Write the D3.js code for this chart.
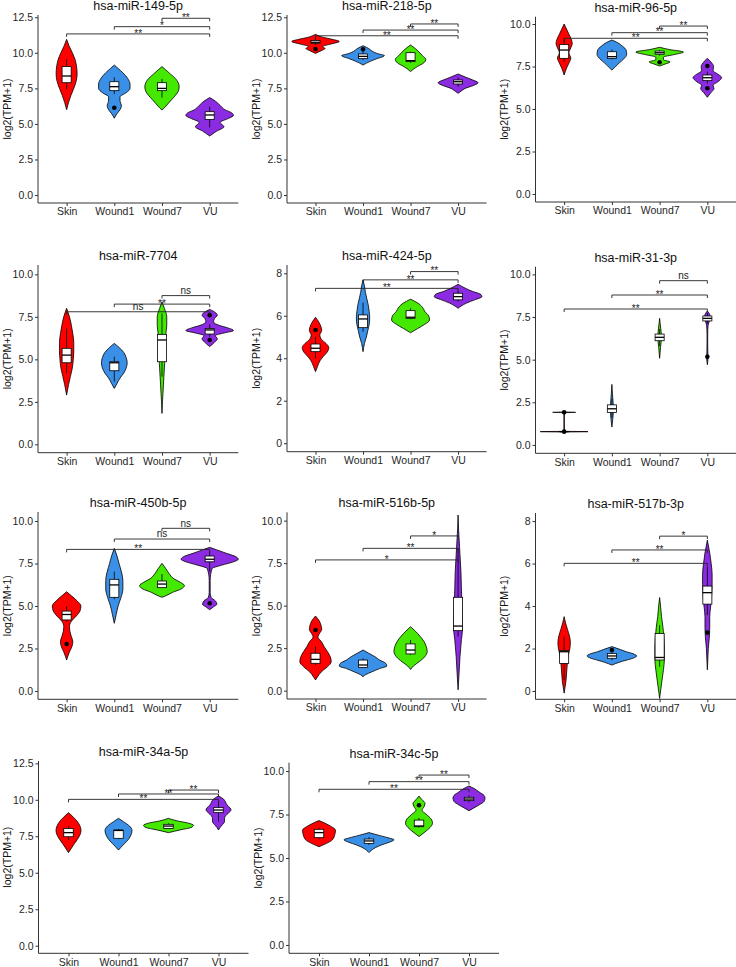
<!DOCTYPE html>
<html><head><meta charset="utf-8">
<script src="https://cdn.jsdelivr.net/npm/d3@7"></script>
<style>body{margin:0;background:#fff}svg{display:block}text{font-family:"Liberation Sans",Arial,sans-serif}</style>
</head><body><svg id="c" width="736" height="967"></svg>
<script>
const groups = ["Skin","Wound1","Wound7","VU"];
const groupColors = ["#FF0000","#3A8FE6","#44E800","#8B2BE2"];
const titles = ["hsa-miR-149-5p","hsa-miR-218-5p","hsa-miR-96-5p","hsa-miR-7704","hsa-miR-424-5p","hsa-miR-31-3p","hsa-miR-450b-5p","hsa-miR-516b-5p","hsa-miR-517b-3p","hsa-miR-34a-5p","hsa-miR-34c-5p"];
const yLabel = "log2(TPM+1)";
const yLimits = [[-0.56,12.66],[-0.56,12.66],[-0.47,10.43],[-0.49,10.55],[-0.40,8.39],[-0.49,10.45],[-0.49,10.53],[-0.49,10.49],[-0.39,8.38],[-0.52,12.66],[-0.48,10.48]];
const ticksA = [0,2.5,5,7.5,10,12.5];
const ticksB = [0,2.5,5,7.5,10];
const ticksC = [0,2,4,6,8];
const yTicks = [ticksA,ticksA,ticksB,ticksB,ticksC,ticksB,ticksB,ticksB,ticksC,ticksA,ticksB];

// violin outlines: [value, half-width as fraction of category step]
const violins = [
 [ // 149-5p
  [[10.95,0],[10.5,0.05],[10,0.12],[9.5,0.18],[9,0.21],[8.5,0.22],[8,0.2],[7.5,0.15],[7,0.09],[6.5,0.04],[6,0]],
  [[9.14,0],[8.9,0.08],[8.6,0.18],[8.2,0.28],[7.8,0.33],[7.5,0.33],[7.2,0.25],[6.9,0.12],[6.6,0.12],[6.3,0.15],[6.0,0.12],[5.7,0.05],[5.4,0]],
  [[9.03,0],[8.8,0.08],[8.5,0.18],[8.2,0.28],[7.9,0.34],[7.6,0.36],[7.3,0.34],[7.0,0.28],[6.7,0.2],[6.4,0.12],[6.1,0.04],[5.98,0]],
  [[6.85,0],[6.6,0.12],[6.3,0.22],[6.0,0.32],[5.8,0.45],[5.6,0.5],[5.4,0.4],[5.1,0.22],[4.8,0.3],[4.5,0.15],[4.15,0]]
 ],
 [ // 218-5p
  [[11.3,0],[11.1,0.15],[10.95,0.35],[10.8,0.5],[10.6,0.3],[10.45,0.15],[10.3,0.2],[10.15,0.12],[9.96,0]],
  [[10.5,0],[10.3,0.12],[10.1,0.2],[9.95,0.3],[9.8,0.45],[9.6,0.3],[9.4,0.15],[9.14,0]],
  [[10.55,0],[10.3,0.1],[10.05,0.18],[9.8,0.25],[9.55,0.32],[9.3,0.28],[9.05,0.15],[8.85,0.06],[8.68,0]],
  [[8.51,0],[8.3,0.15],[8.1,0.3],[7.9,0.42],[7.7,0.32],[7.5,0.15],[7.3,0.06],[7.15,0]]
 ],
 [ // 96-5p
  [[10.0,0],[9.7,0.05],[9.4,0.1],[9.1,0.15],[8.85,0.17],[8.6,0.14],[8.3,0.1],[8.0,0.14],[7.7,0.1],[7.4,0.05],[7.0,0]],
  [[9.06,0],[8.9,0.12],[8.7,0.22],[8.45,0.3],[8.2,0.31],[7.95,0.25],[7.7,0.15],[7.45,0.06],[7.29,0]],
  [[8.63,0],[8.5,0.2],[8.35,0.5],[8.2,0.3],[8.05,0.08],[7.9,0.08],[7.77,0.22],[7.65,0.12],[7.53,0]],
  [[7.98,0],[7.75,0.08],[7.5,0.13],[7.25,0.12],[7.05,0.22],[6.85,0.3],[6.6,0.22],[6.4,0.12],[6.2,0.14],[5.95,0.07],[5.69,0]]
 ],
 [ // 7704
  [[8.0,0],[7.5,0.06],[7.0,0.1],[6.5,0.13],[6.0,0.15],[5.5,0.15],[5.0,0.14],[4.5,0.12],[4.0,0.08],[3.5,0.04],[2.9,0]],
  [[5.94,0],[5.7,0.1],[5.4,0.2],[5.1,0.25],[4.8,0.27],[4.5,0.25],[4.2,0.2],[3.9,0.12],[3.6,0.06],[3.29,0]],
  [[8.39,0],[8.0,0.05],[7.5,0.1],[7.0,0.1],[6.5,0.08],[6.0,0.07],[5.5,0.06],[5.0,0.06],[4.5,0.05],[4.0,0.04],[3.5,0.03],[3.0,0.02],[2.5,0.01],[1.82,0]],
  [[7.94,0],[7.75,0.12],[7.6,0.16],[7.4,0.1],[7.2,0.08],[7.0,0.2],[6.85,0.38],[6.7,0.5],[6.55,0.3],[6.4,0.12],[6.2,0.16],[6.0,0.1],[5.75,0]]
 ],
 [ // 424-5p
  [[5.93,0],[5.7,0.07],[5.45,0.12],[5.3,0.13],[5.1,0.09],[4.9,0.12],[4.7,0.22],[4.5,0.28],[4.3,0.25],[4.1,0.17],[3.9,0.1],[3.6,0.04],[3.37,0]],
  [[7.69,0],[7.4,0.03],[7.1,0.05],[6.8,0.08],[6.5,0.11],[6.2,0.13],[5.9,0.14],[5.6,0.13],[5.3,0.1],[5.0,0.07],[4.7,0.03],[4.31,0]],
  [[6.78,0],[6.6,0.15],[6.4,0.25],[6.2,0.3],[6.0,0.38],[5.8,0.4],[5.6,0.3],[5.4,0.15],[5.2,0]],
  [[7.48,0],[7.3,0.15],[7.15,0.3],[7.0,0.48],[6.9,0.5],[6.75,0.35],[6.6,0.18],[6.45,0.06],[6.35,0]]
 ],
 [ // 31-3p
  [[1.93,0],[1.91,0.24],[1.89,0.004],[0.8,0.004],[0.78,0.5],[0.76,0]],
  [[3.55,0],[3.0,0.012],[2.5,0.025],[2.2,0.035],[1.9,0.03],[1.5,0.018],[1.05,0]],
  [[7.42,0],[7.1,0.012],[6.8,0.025],[6.5,0.035],[6.3,0.04],[6.0,0.03],[5.7,0.018],[5.4,0.01],[5.08,0]],
  [[7.85,0],[7.7,0.04],[7.5,0.06],[7.3,0.045],[7.0,0.015],[6.5,0.007],[6.0,0.007],[5.5,0.009],[5.15,0.015],[4.8,0.004],[4.7,0]]
 ],
 [ // 450b-5p
  [[5.84,0],[5.6,0.1],[5.3,0.22],[5.0,0.3],[4.7,0.28],[4.4,0.2],[4.1,0.1],[3.8,0.06],[3.5,0.07],[3.2,0.1],[2.9,0.13],[2.6,0.11],[2.3,0.06],[2.0,0.02],[1.82,0]],
  [[8.39,0],[8.0,0.05],[7.5,0.1],[7.0,0.15],[6.5,0.18],[6.0,0.18],[5.5,0.14],[5.0,0.08],[4.5,0.04],[3.98,0]],
  [[7.51,0],[7.2,0.08],[6.9,0.15],[6.6,0.25],[6.4,0.38],[6.2,0.47],[6.0,0.4],[5.8,0.22],[5.6,0.08],[5.51,0]],
  [[8.45,0],[8.3,0.15],[8.1,0.35],[7.9,0.55],[7.75,0.6],[7.6,0.5],[7.4,0.25],[7.2,0.05],[6.5,0.01],[5.8,0.01],[5.5,0.03],[5.3,0.12],[5.1,0.15],[4.95,0.08],[4.78,0]]
 ],
 [ // 516b-5p
  [[4.39,0],[4.1,0.08],[3.8,0.12],[3.6,0.13],[3.35,0.08],[3.15,0.05],[2.9,0.12],[2.6,0.18],[2.3,0.25],[2.0,0.31],[1.7,0.33],[1.4,0.25],[1.1,0.12],[0.8,0.04],[0.63,0]],
  [[2.39,0],[2.2,0.12],[2.0,0.25],[1.8,0.35],[1.6,0.48],[1.45,0.5],[1.3,0.35],[1.1,0.18],[0.95,0.06],[0.82,0]],
  [[3.76,0],[3.5,0.1],[3.2,0.2],[2.9,0.28],[2.6,0.33],[2.3,0.35],[2.0,0.3],[1.7,0.18],[1.45,0.06],[1.25,0]],
  [[10.33,0],[9.5,0.01],[9.0,0.02],[8.5,0.03],[8.0,0.04],[7.0,0.06],[6.0,0.07],[5.0,0.08],[4.0,0.09],[3.5,0.09],[3.0,0.07],[2.0,0.04],[1.0,0.02],[0.05,0]]
 ],
 [ // 517b-3p
  [[3.5,0],[3.2,0.03],[2.9,0.07],[2.6,0.11],[2.3,0.13],[2.0,0.12],[1.7,0.09],[1.4,0.07],[1.1,0.06],[0.8,0.05],[0.5,0.04],[0.2,0.02],[-0.1,0]],
  [[2.09,0],[1.95,0.18],[1.85,0.3],[1.75,0.45],[1.65,0.52],[1.55,0.45],[1.45,0.3],[1.35,0.15],[1.22,0]],
  [[4.4,0],[4.0,0.02],[3.5,0.04],[3.0,0.07],[2.5,0.09],[2.0,0.1],[1.5,0.1],[1.0,0.08],[0.5,0.05],[0.0,0.02],[-0.35,0]],
  [[7.1,0],[6.5,0.05],[6.0,0.08],[5.5,0.1],[5.0,0.1],[4.5,0.09],[4.0,0.07],[3.5,0.05],[3.0,0.05],[2.5,0.04],[2.0,0.02],[1.5,0.01],[1.0,0]]
 ],
 [ // 34a-5p
  [[9.12,0],[8.8,0.1],[8.5,0.18],[8.2,0.23],[7.9,0.25],[7.6,0.23],[7.3,0.18],[7.0,0.12],[6.7,0.06],[6.38,0]],
  [[8.73,0],[8.5,0.1],[8.2,0.22],[7.9,0.27],[7.6,0.25],[7.3,0.2],[7.0,0.12],[6.75,0.05],[6.56,0]],
  [[8.73,0],[8.55,0.18],[8.4,0.4],[8.25,0.5],[8.1,0.45],[7.95,0.25],[7.75,0]],
  [[10.26,0],[10.05,0.1],[9.85,0.14],[9.65,0.17],[9.45,0.23],[9.3,0.25],[9.1,0.2],[8.9,0.14],[8.7,0.12],[8.5,0.12],[8.3,0.08],[8.1,0.03],[7.93,0]]
 ],
 [ // 34c-5p
  [[7.15,0],[7.0,0.12],[6.8,0.25],[6.6,0.33],[6.4,0.32],[6.2,0.3],[6.0,0.25],[5.8,0.12],[5.65,0]],
  [[6.46,0],[6.3,0.2],[6.15,0.4],[6.05,0.5],[5.9,0.4],[5.75,0.25],[5.55,0.1],[5.31,0]],
  [[8.56,0],[8.35,0.06],[8.15,0.12],[7.95,0.1],[7.75,0.06],[7.5,0.15],[7.25,0.24],[7.0,0.27],[6.75,0.22],[6.5,0.12],[6.23,0]],
  [[9.14,0],[9.0,0.1],[8.8,0.2],[8.6,0.3],[8.45,0.32],[8.25,0.3],[8.05,0.2],[7.85,0.08],[7.72,0]]
 ]
];

// box statistics per group: [lower whisker, Q1, median, Q3, upper whisker]
const boxStats = [
 [[7.43,7.9,8.37,9.03,9.54],[7.1,7.34,7.62,7.97,8.28],[6.85,7.34,7.5,7.9,8.16],[4.76,5.32,5.63,5.86,6.21]],
 [[10.55,10.67,10.74,10.86,11.09],[9.5,9.59,9.75,9.92,10.2],[9.3,9.38,9.45,10.01,10.08],[7.62,7.81,7.97,8.09,8.28]],
 [[7.78,7.98,8.47,8.8,9.12],[7.92,7.98,8.08,8.37,8.5],[8.14,8.22,8.31,8.41,8.47],[6.5,6.67,6.84,7.0,7.2]],
 [[4.18,4.8,5.25,5.65,6.82],[3.69,4.33,4.8,4.86,5.16],[3.98,4.86,6.14,6.47,7.7],[6.33,6.49,6.73,6.82,7.06]],
 [[4.0,4.31,4.47,4.67,5.02],[5.25,5.44,5.85,6.04,6.62],[5.84,5.88,5.93,6.24,6.35],[6.67,6.75,6.9,7.06,7.17]],
 [[0.78,0.78,0.78,0.78,0.78],[1.6,1.9,2.12,2.35,2.7],[5.8,6.11,6.31,6.5,6.8],[7.1,7.27,7.42,7.56,7.75]],
 [[4.08,4.18,4.5,4.7,5.0],[5.4,5.51,6.24,6.57,7.02],[6.05,6.08,6.29,6.47,6.88],[7.02,7.6,7.75,7.94,8.2]],
 [[1.5,1.61,1.84,2.2,2.59],[1.35,1.37,1.51,1.8,1.9],[2.1,2.16,2.39,2.75,2.98],[3.18,3.53,3.8,5.49,8.37]],
 [[0.52,1.3,1.85,1.9,2.56],[1.45,1.54,1.65,1.77,1.85],[1.14,1.46,1.58,2.71,3.1],[3.58,4.09,4.63,4.94,5.85]],
 [[7.24,7.47,7.75,8.04,8.2],[7.3,7.36,7.9,7.93,8.0],[8.0,8.04,8.2,8.32,8.4],[8.5,9.12,9.3,9.48,9.99]],
 [[6.1,6.17,6.46,6.65,6.75],[5.75,5.84,5.98,6.09,6.2],[6.75,6.8,6.84,7.18,7.3],[8.2,8.3,8.39,8.49,8.6]]
];

// outliers: [group index, value]
const outliers = [
 [[1,6.14]],
 [[0,10.27],[1,10.25]],
 [[2,7.75],[3,7.53],[3,6.22]],
 [[3,7.6],[3,6.14]],
 [[0,5.33]],
 [[0,1.91],[0,0.78],[3,5.17]],
 [[0,2.76],[3,5.16]],
 [[0,3.57]],
 [[1,1.93],[3,2.75]],
 [],
 [[2,8.03]]
];

// significance brackets: [from group, to group, y value, label]
const brackets = [
 [[0,3,11.33,"**"],[1,3,11.84,"*"],[2,3,12.43,"**"]],
 [[0,3,11.2,"**"],[1,3,11.6,"**"],[2,3,12.03,"**"]],
 [[0,3,9.16,"**"],[1,3,9.49,"**"],[2,3,9.88,"**"]],
 [[0,3,7.8,"ns"],[1,3,8.25,"**"],[2,3,8.75,"ns"]],
 [[0,3,7.29,"**"],[1,3,7.69,"**"],[2,3,8.08,"**"]],
 [[0,3,7.97,"**"],[1,3,8.79,"**"],[2,3,9.63,"ns"]],
 [[0,3,8.33,"**"],[1,3,8.94,"ns"],[2,3,9.57,"ns"]],
 [[0,3,7.69,"*"],[1,3,8.37,"**"],[2,3,9.1,"*"]],
 [[0,3,6.01,"**"],[1,3,6.64,"**"],[2,3,7.29,"*"]],
 [[0,3,10.03,"**"],[1,3,10.4,"**"],[2,3,10.67,"**"]],
 [[0,3,8.95,"**"],[1,3,9.39,"**"],[2,3,9.77,"**"]]
];

// panel frames in pixels: [left, right, top, bottom]
const frames = [
 [38,238.3,15,203],[287,486.6,15,203],[535.5,736,16.7,202],
 [38,238.3,265,452.7],[287,486.6,265,451.7],[535.5,736,266.7,453.3],
 [38,238.3,512,699.3],[287,486.6,512.3,699],[535.5,736,513,699.3],
 [38.5,248.5,761,953.3],[289,499,762.7,953.3]
];

const svg = d3.select("#c");
const axisCol = "#333";
const txtCol = "#1f1f1f";

titles.forEach((title, p) => {
  const [L, R, T, B] = frames[p];
  const g = svg.append("g");
  const x = d3.scalePoint().domain(groups).range([L, R]).padding(0.6);
  const step = x.step();
  const y = d3.scaleLinear().domain(yLimits[p]).range([B, T]);

  // violins
  violins[p].forEach((prof, gi) => {
    const cx = x(groups[gi]);
    const area = d3.area()
      .y(d => y(d[0]))
      .x0(d => cx - d[1] * step)
      .x1(d => cx + d[1] * step)
      .curve(d3.curveMonotoneY);
    g.append("path").attr("d", area(prof))
      .attr("fill", groupColors[gi]).attr("stroke", "#000").attr("stroke-width", 0.8)
      .attr("stroke-linejoin", "round");
  });

  // boxplots
  const bw = 0.19 * step;
  boxStats[p].forEach((s, gi) => {
    const cx = x(groups[gi]);
    const [lo, q1, med, q3, hi] = s;
    g.append("line").attr("x1", cx).attr("x2", cx).attr("y1", y(hi)).attr("y2", y(q3))
      .attr("stroke", "#000").attr("stroke-width", 0.8);
    g.append("line").attr("x1", cx).attr("x2", cx).attr("y1", y(q1)).attr("y2", y(lo))
      .attr("stroke", "#000").attr("stroke-width", 0.8);
    g.append("rect").attr("x", cx - bw / 2).attr("width", bw)
      .attr("y", y(q3)).attr("height", Math.max(0.01, y(q1) - y(q3)))
      .attr("fill", "#fff").attr("stroke", "#000").attr("stroke-width", 0.8);
    g.append("line").attr("x1", cx - bw / 2).attr("x2", cx + bw / 2).attr("y1", y(med)).attr("y2", y(med))
      .attr("stroke", "#000").attr("stroke-width", 1.3);
  });
  outliers[p].forEach(([gi, v]) => {
    g.append("circle").attr("cx", x(groups[gi])).attr("cy", y(v)).attr("r", 2.3).attr("fill", "#000");
  });

  // brackets
  brackets[p].forEach(([a, b, v, lab]) => {
    const x1 = x(groups[a]), x2 = x(groups[b]), yy = y(v);
    g.append("path").attr("d", `M${x1},${yy + 3}V${yy}H${x2}V${yy + 3}`)
      .attr("fill", "none").attr("stroke", "#222").attr("stroke-width", 0.9);
    g.append("text").attr("x", (x1 + x2) / 2).attr("y", lab === "ns" ? yy - 1.8 : yy + 2.8)
      .attr("text-anchor", "middle").attr("font-size", 10).attr("fill", "#222").text(lab);
  });

  // axes
  const yAxis = d3.axisLeft(y).tickValues(yTicks[p]).tickSize(3).tickPadding(2)
    .tickFormat(yTicks[p] === ticksC ? d3.format("d") : d3.format(".1f"));
  const ya = g.append("g").attr("transform", `translate(${L},0)`).call(yAxis);
  ya.select(".domain").attr("d", `M0,${T}V${B}`);
  const xAxis = d3.axisBottom(x).tickSize(3).tickPadding(2);
  const xa = g.append("g").attr("transform", `translate(0,${B})`).call(xAxis);
  xa.select(".domain").attr("d", `M${L},0H${R}`);
  [ya, xa].forEach(a => {
    a.select(".domain").attr("stroke", axisCol).attr("stroke-width", 1);
    a.selectAll(".tick line").attr("stroke", axisCol).attr("stroke-width", 1);
    a.selectAll(".tick text").attr("fill", txtCol).attr("font-size", 10.5)
      .attr("font-family", '"Liberation Sans",Arial,sans-serif');
  });

  // title & y label
  g.append("text").attr("x", (L + R) / 2).attr("y", T - 5).attr("text-anchor", "middle")
    .attr("font-size", 12.5).attr("fill", "#111").text(title);
  g.append("text").attr("transform", `translate(${L - 27.5},${(T + B) / 2}) rotate(-90)`)
    .attr("text-anchor", "middle").attr("font-size", 10.5).attr("fill", "#111").text(yLabel);
});
</script></body></html>
